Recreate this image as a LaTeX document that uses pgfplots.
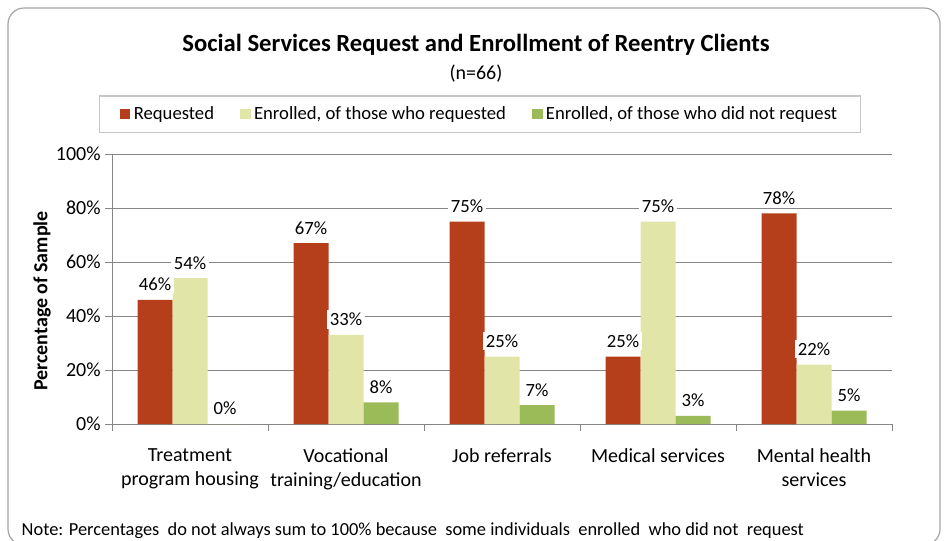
\documentclass[border=0pt]{standalone}
\usepackage{fontspec}
\setmainfont{Carlito}
\usepackage{pgfplots}
\pgfplotsset{compat=1.18}
\definecolor{reqred}{HTML}{B43F1A}
\definecolor{enrlight}{HTML}{E1E5A7}
\definecolor{enrgreen}{HTML}{9BBB59}
\definecolor{gridgray}{HTML}{868686}
\begin{document}
\begin{tikzpicture}[x=0.75pt,y=-0.75pt]
\path[use as bounding box] (0,0) rectangle (946,540);
\draw[color=black!35, line width=0.9pt, rounded corners=12pt] (8,8) rectangle (940,545);
\node[font=\fontsize{18.5}{22}\selectfont\bfseries] at (476,45) {Social Services Request and Enrollment of Reentry Clients};
\node[font=\fontsize{15}{18}\selectfont] at (476,74) {(n=66)};
\node[font=\fontsize{13.8}{16}\selectfont, anchor=west] at (17,531) {Note: Percentages\ \ do not always sum to 100\% because\ \ some individuals\ \ enrolled\ \ who did not\ \ request};
\begin{axis}[
  at={(84pt,-318pt)}, anchor=south west,
  scale only axis, width=585pt, height=202.5pt,
  ybar=0pt, bar width=26.25pt,
  xmin=-0.5, xmax=4.5, ymin=0, ymax=100,
  axis lines=left, axis line style={gridgray, -},
  ytick={0,20,...,100}, ymajorgrids, grid style={gridgray, line width=0.6pt},
  yticklabel={\pgfmathprintnumber{\tick}\%},
  /pgf/number format/assume math mode=true,
  tick style={gridgray}, major tick length=5pt,
  ytick pos=left, tick align=outside,
  xtick={0,1,2,3,4},
  xticklabels={Treatment\\program housing, Vocational\\training/education, Job referrals, Medical services, Mental health\\services},
  x tick style={draw=none},
  xticklabel style={align=center, yshift=-10pt, font=\fontsize{15}{18}\selectfont},
  yticklabel style={font=\fontsize{15}{18}\selectfont},
  extra x ticks={-0.5,0.5,1.5,2.5,3.5,4.5}, extra x tick labels={},
  extra x tick style={x tick style={draw=gridgray}, grid=none},
  ylabel={\bfseries Percentage of Sample},
  ylabel style={font=\fontsize{15}{18}\selectfont, yshift=-3pt, xshift=-9pt},
  nodes near coords={\pgfmathprintnumber{\pgfplotspointmeta}\%},
  nodes near coords style={font=\fontsize{14}{16}\selectfont, fill=white, inner xsep=2.5pt, inner ysep=2pt, anchor=south, yshift=4.5pt},
  legend columns=3,
  legend style={at={(0.472,1.148)}, anchor=center, draw=black!22, line width=0.9pt, font=\fontsize{14}{16}\selectfont,
    inner xsep=15pt, inner ysep=6pt,
    /tikz/every even column/.append style={column sep=17pt},
    nodes={inner xsep=2.5pt}},
  legend image code/.code={\fill[#1] (0pt,-4pt) rectangle (8pt,4pt);},
  legend cell align=left,
]
\addplot[fill=reqred, draw=none] coordinates {(0,46) (1,67) (2,75) (3,25) (4,78)};
\addlegendentry{Requested}
\addplot[fill=enrlight, draw=none] coordinates {(0,54) (1,33) (2,25) (3,75) (4,22)};
\addlegendentry{Enrolled, of those who requested}
\addplot[fill=enrgreen, draw=none] coordinates {(0,0) (1,8) (2,7) (3,3) (4,5)};
\addlegendentry{Enrolled, of those who did not request}
\end{axis}
\end{tikzpicture}
\end{document}
